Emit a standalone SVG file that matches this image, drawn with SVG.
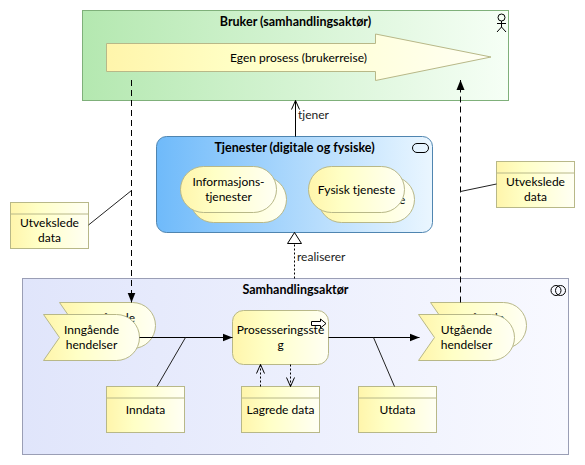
<svg xmlns="http://www.w3.org/2000/svg" width="585" height="465" viewBox="0 0 585 465">
<style>
text{font-family:"Lato","Open Sans","Liberation Sans",sans-serif;font-size:12px;fill:#000;text-anchor:middle}
.t{font-weight:bold;font-size:12.5px}
.l{text-anchor:start;fill:#222}
.y{fill:url(#gy);stroke:#b8b888;stroke-width:1}
.c{fill:none;stroke:#000;stroke-width:1}
.a{fill:none;stroke:#222;stroke-width:1}
.i{fill:none;stroke:#000;stroke-width:1}
.dash{stroke-dasharray:6 4}
.dot{stroke-dasharray:2 2}
</style>
<defs>
<linearGradient id="gy"><stop offset="0" stop-color="#fff5ab"/><stop offset="0.35" stop-color="#ffffc6"/><stop offset="1" stop-color="#fffff4"/></linearGradient>
<linearGradient id="gg"><stop offset="0" stop-color="#b4e8b0"/><stop offset="1" stop-color="#f6fff6"/></linearGradient>
<linearGradient id="gb"><stop offset="0" stop-color="#6fbafa"/><stop offset="1" stop-color="#eaf6ff"/></linearGradient>
<linearGradient id="gl"><stop offset="0" stop-color="#e0e5fb"/><stop offset="1" stop-color="#f8f9ff"/></linearGradient>
<marker id="fill" markerUnits="userSpaceOnUse" markerWidth="12" markerHeight="10" refX="10" refY="5" orient="auto"><path d="M0 1 L10 5 L0 9 Z" fill="#000"/></marker>
<marker id="open" markerUnits="userSpaceOnUse" markerWidth="12" markerHeight="12" refX="10" refY="6" orient="auto"><path d="M1 2 L10 6 L1 10" fill="none" stroke="#000"/></marker>
<marker id="tri" markerUnits="userSpaceOnUse" markerWidth="14" markerHeight="16" refX="11" refY="8" orient="auto"><path d="M0 1 L11 8 L0 15 Z" fill="#fff" stroke="#000"/></marker>
</defs>

<g id="bruker">
<rect x="82.5" y="10.5" width="426" height="90" fill="url(#gg)" stroke="#7fb07a"/>
<text class="t" x="295.5" y="26">Bruker (samhandlingsaktør)</text>
<g class="i"><circle cx="501.5" cy="17.5" r="3.5"/><path d="M501.5 21V27M497 23.5H506M501.5 27L497 32M501.5 27L506 32"/></g>
</g>
<g id="egen-prosess">
<path class="y" d="M106.5 43.5H375.5V34L491 57L375.5 80.5V71.5H106.5Z"/>
<text x="298.5" y="62">Egen prosess (brukerreise)</text>
</g>

<g id="tjenester">
<rect x="156.5" y="136.5" width="276" height="96" rx="10" fill="url(#gb)" stroke="#4f85b0"/>
<text class="t" x="294.5" y="152">Tjenester (digitale og fysiske)</text>
<rect class="i" x="412.5" y="143.5" width="16" height="9" rx="4.5"/>
</g>
<g id="info-back">
<rect class="y" x="190.5" y="176.5" width="96" height="46" rx="23"/>
<text x="238.5" y="196">Informasjons-</text><text x="238.5" y="211">tjenester</text>
</g>
<g id="info">
<rect class="y" x="180.5" y="166.5" width="96" height="46" rx="23"/>
<text x="228.5" y="186">Informasjons-</text><text x="228.5" y="201">tjenester</text>
</g>
<g id="fysisk-back">
<rect class="y" x="318.5" y="176.5" width="96" height="46" rx="23"/>
<text x="366.5" y="204">Fysisk tjeneste</text>
</g>
<g id="fysisk">
<rect class="y" x="308.5" y="166.5" width="96" height="46" rx="23"/>
<text x="356.5" y="194">Fysisk tjeneste</text>
</g>

<g id="samhandlingsaktor">
<rect x="22.5" y="278.5" width="546" height="176" fill="url(#gl)" stroke="#9a9eb5"/>
<text class="t" x="295.5" y="294">Samhandlingsaktør</text>
<g class="i"><circle cx="556" cy="290.5" r="5"/><circle cx="560.5" cy="290.5" r="5"/></g>
</g>

<g id="inn-back">
<path class="y" d="M59.5 302.5H132.5A23 23 0 0 1 132.5 348.5H59.5L75.5 325.5Z"/>
<text x="107.5" y="322">Inngående</text><text x="107.5" y="337">hendelser</text>
</g>
<g id="inn">
<path class="y" d="M43.5 314.5H116.5A23 23 0 0 1 116.5 360.5H43.5L59.5 337.5Z"/>
<text x="91.5" y="334">Inngående</text><text x="91.5" y="349">hendelser</text>
</g>
<g id="ut-back">
<path class="y" d="M430.5 302.5H503.5A23 23 0 0 1 503.5 348.5H430.5L446.5 325.5Z"/>
<text x="478.5" y="322">Utgående</text><text x="478.5" y="337">hendelser</text>
</g>
<g id="ut">
<path class="y" d="M418.5 314.5H491.5A23 23 0 0 1 491.5 360.5H418.5L434.5 337.5Z"/>
<text x="466.5" y="334">Utgående</text><text x="466.5" y="349">hendelser</text>
</g>
<g id="prosess">
<rect class="y" x="232.5" y="310.5" width="96" height="54" rx="11"/>
<text x="280.5" y="334">Prosesseringsste</text><text x="280.5" y="349">g</text>
<path d="M311.5 321.5H320.5V319L326 323.5L320.5 328V325.5H311.5Z" fill="#fff" stroke="#000"/>
</g>
<g id="inndata">
<rect class="y" x="106.5" y="386.5" width="78" height="46"/><path class="y" d="M106.5 398H184.5"/>
<text x="145.5" y="414">Inndata</text>
</g>
<g id="lagrede">
<rect class="y" x="241.5" y="386.5" width="78" height="46"/><path class="y" d="M241.5 398H319.5"/>
<text x="280.5" y="414">Lagrede data</text>
</g>
<g id="utdata">
<rect class="y" x="358.5" y="386.5" width="78" height="46"/><path class="y" d="M358.5 398H436.5"/>
<text x="397.5" y="414">Utdata</text>
</g>
<g id="utv-v">
<rect class="y" x="10.5" y="202.5" width="78" height="46"/><path class="y" d="M10.5 214H88.5"/>
<text x="49.5" y="227">Utvekslede</text><text x="49.5" y="242">data</text>
</g>
<g id="utv-h">
<rect class="y" x="496.5" y="161.5" width="78" height="46"/><path class="y" d="M496.5 173H574.5"/>
<text x="535.5" y="186">Utvekslede</text><text x="535.5" y="201">data</text>
</g>

<g id="connectors">
<path class="c dash" d="M131.5 80V302.5" marker-end="url(#fill)"/>
<path class="c dash" d="M460.5 302.5V80" marker-end="url(#fill)"/>
<path class="c" d="M295.5 136.5V100.5" marker-end="url(#open)"/>
<path class="c dot" d="M294.5 278.5V232.5" marker-end="url(#tri)"/>
<path class="c" d="M139.5 337.5H232.5" marker-end="url(#fill)"/>
<path class="c" d="M328.5 337.5H419.5" marker-end="url(#fill)"/>
<path class="a" d="M185.5 337.5L157 386.5"/>
<path class="a" d="M373.5 337.5L394.5 386.5"/>
<path class="a" d="M88.5 225L131.5 190.5"/>
<path class="a" d="M496.5 184L460.5 191.5"/>
<path class="c dot" d="M260.5 386.5V364.5" marker-end="url(#open)"/>
<path class="c dot" d="M290.5 364.5V386.5" marker-end="url(#open)"/>
<text class="l" x="298" y="119">tjener</text>
<text class="l" x="297" y="261">realiserer</text>
</g>
</svg>
